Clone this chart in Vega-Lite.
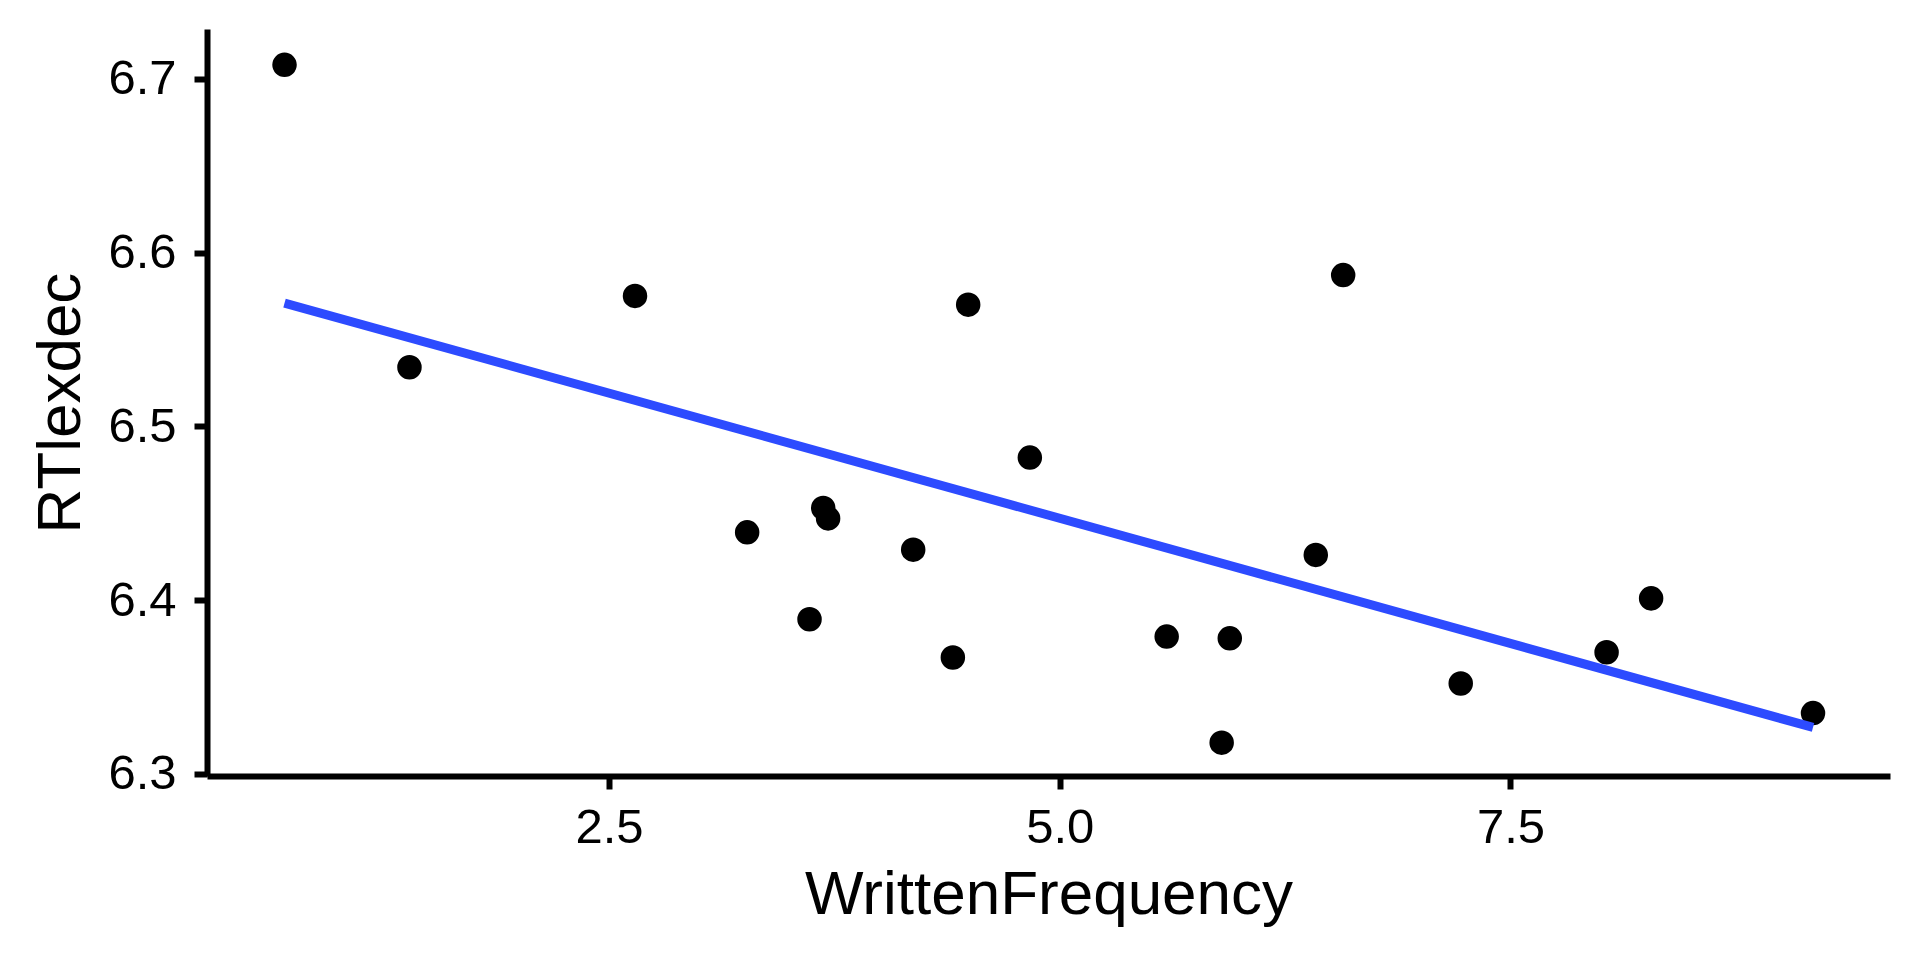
{
  "$schema": "https://vega.github.io/schema/vega-lite/v6.json",
  "width": 1683,
  "height": 747,
  "autosize": {"type": "none"},
  "padding": {"left": 207, "top": 29, "right": 30, "bottom": 184},
  "background": "white",
  "config": {
    "view": {"stroke": null},
    "font": "Liberation Sans",
    "axis": {
      "grid": false,
      "domainColor": "black",
      "domainWidth": 6,
      "tickColor": "black",
      "tickWidth": 6,
      "tickSize": 13,
      "labelColor": "black",
      "labelFont": "Liberation Sans",
      "labelFontSize": 49,
      "titleColor": "black",
      "titleFont": "Liberation Sans",
      "titleFontSize": 62,
      "titleFontWeight": "normal"
    }
  },
  "data": {
    "values": [
      {"WrittenFrequency": 0.700, "RTlexdec": 6.708},
      {"WrittenFrequency": 1.393, "RTlexdec": 6.534},
      {"WrittenFrequency": 2.644, "RTlexdec": 6.575},
      {"WrittenFrequency": 3.266, "RTlexdec": 6.439},
      {"WrittenFrequency": 3.612, "RTlexdec": 6.389},
      {"WrittenFrequency": 3.688, "RTlexdec": 6.453},
      {"WrittenFrequency": 3.715, "RTlexdec": 6.447},
      {"WrittenFrequency": 4.187, "RTlexdec": 6.429},
      {"WrittenFrequency": 4.407, "RTlexdec": 6.367},
      {"WrittenFrequency": 4.492, "RTlexdec": 6.570},
      {"WrittenFrequency": 4.834, "RTlexdec": 6.482},
      {"WrittenFrequency": 5.593, "RTlexdec": 6.379},
      {"WrittenFrequency": 5.898, "RTlexdec": 6.318},
      {"WrittenFrequency": 5.943, "RTlexdec": 6.378},
      {"WrittenFrequency": 6.420, "RTlexdec": 6.426},
      {"WrittenFrequency": 6.572, "RTlexdec": 6.587},
      {"WrittenFrequency": 7.224, "RTlexdec": 6.352},
      {"WrittenFrequency": 8.033, "RTlexdec": 6.370},
      {"WrittenFrequency": 8.280, "RTlexdec": 6.401},
      {"WrittenFrequency": 9.178, "RTlexdec": 6.335}
    ]
  },
  "encoding": {
    "x": {
      "field": "WrittenFrequency",
      "type": "quantitative",
      "scale": {"domain": [0.27, 9.605], "nice": false, "zero": false},
      "axis": {"values": [2.5, 5, 7.5], "format": ".1f", "labelPadding": 14, "titlePadding": 12, "title": "WrittenFrequency"}
    },
    "y": {
      "field": "RTlexdec",
      "type": "quantitative",
      "scale": {"domain": [6.2988, 6.7286], "nice": false, "zero": false},
      "axis": {"values": [6.3, 6.4, 6.5, 6.6, 6.7], "format": ".1f", "labelPadding": 18, "titlePadding": 15, "title": "RTlexdec"}
    }
  },
  "layer": [
    {
      "mark": {"type": "point", "filled": true, "shape": "circle", "size": 600, "color": "black", "opacity": 1}
    },
    {
      "transform": [{"regression": "RTlexdec", "on": "WrittenFrequency"}],
      "mark": {"type": "line", "color": "#2D4BFF", "strokeWidth": 9, "strokeCap": "butt"}
    }
  ]
}
